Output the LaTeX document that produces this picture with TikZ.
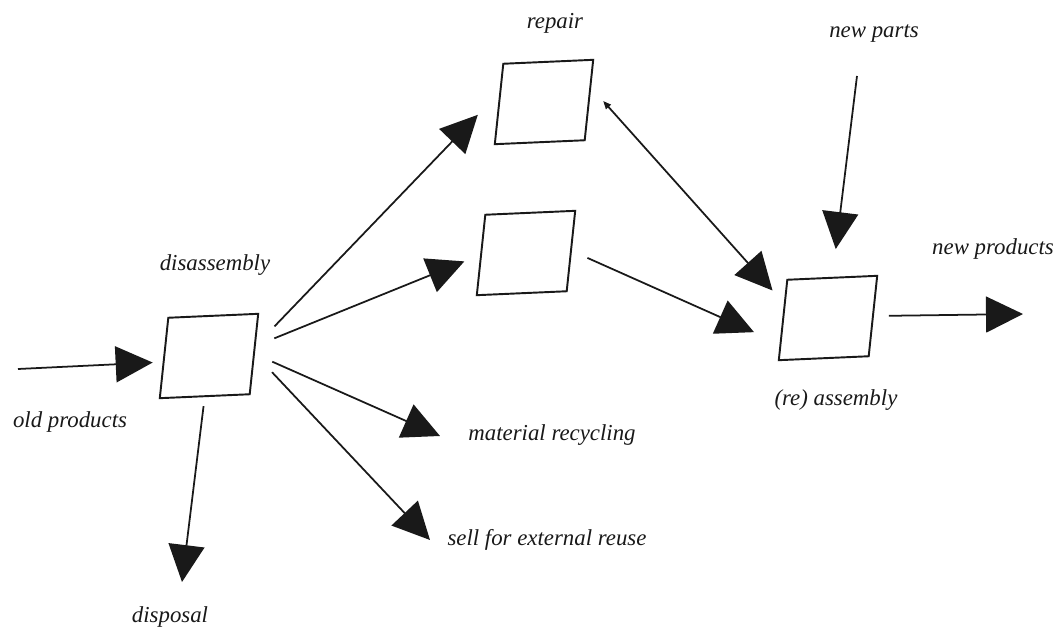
\documentclass[tikz,border=0pt]{standalone}
\usepackage{fontspec}
\setmainfont{Liberation Serif}
\usetikzlibrary{arrows.meta}
\begin{document}
\begin{tikzpicture}[x=0.02cm,y=-0.02cm,
  box/.style={draw=black!90, line width=1.1pt, minimum width=1.8cm, minimum height=1.6cm, inner sep=0pt, rotate=2.5, xslant=0.15},
  lbl/.style={font=\fontsize{13}{15}\selectfont\itshape, inner sep=0pt, text=black!90},
  flow/.style={draw=black!90, line width=1pt, -{Triangle[length=0.74cm,width=0.72cm]}},
  both/.style={draw=black!90, line width=1pt, {Triangle[length=0.16cm,width=0.13cm]}-{Triangle[length=0.74cm,width=0.72cm]}}
]
\path[use as bounding box] (0,0) rectangle (1063,632);

% boxes
\node[box] (D) at (209,356) {};
\node[box] (R) at (544,102) {};
\node[box] (M) at (526,253) {};
\node[box] (A) at (828,318) {};

% labels
\node[lbl] (lOld)  at (70,422)  {old products};
\node[lbl] (lDis)  at (215,265) {disassembly};
\node[lbl] (lRep)  at (555,23)  {repair};
\node[lbl] (lNP)   at (874,34)  {new parts};
\node[lbl] (lNPr)  at (993,249) {new products};
\node[lbl] (lAss)  at (836,400) {(re) assembly};
\node[lbl] (lMR)   at (552,435) {material recycling};
\node[lbl] (lSell) at (547,540) {sell for external reuse};
\node[lbl] (lDisp) at (170,617) {disposal};

% free ends
\coordinate (opStart) at (18,369);
\coordinate (mrTip)   at (440,436);
\coordinate (sellTip) at (430,540);
\coordinate (dispTip) at (182,582);
\coordinate (npStart) at (857,76);
\coordinate (nprTip)  at (1023,314);

% connectors
\draw[flow, shorten >=0.2cm] (opStart) -- (D.-175);
\draw[flow, shorten <=0.54cm, shorten >=0.62cm] (D.10) -- (R.166);
\draw[flow, shorten <=0.4cm, shorten >=0.34cm] (D.10) -- (M.west);
\draw[flow, shorten <=0.38cm] (D.east) -- (mrTip);
\draw[flow, shorten <=0.5cm] (D.east) -- (sellTip);
\draw[flow, shorten <=0.18cm] (D.south) -- (dispTip);
\draw[both, shorten <=0.36cm, shorten >=0.34cm] (R.15) -- (A.160);
\draw[flow, shorten <=0.34cm, shorten >=0.56cm] (M.east) -- (A.-153);
\draw[flow, shorten >=0.56cm] (npStart) -- (A.north);
\draw[flow, shorten <=0.3cm] (A.east) -- (nprTip);
\end{tikzpicture}
\end{document}
